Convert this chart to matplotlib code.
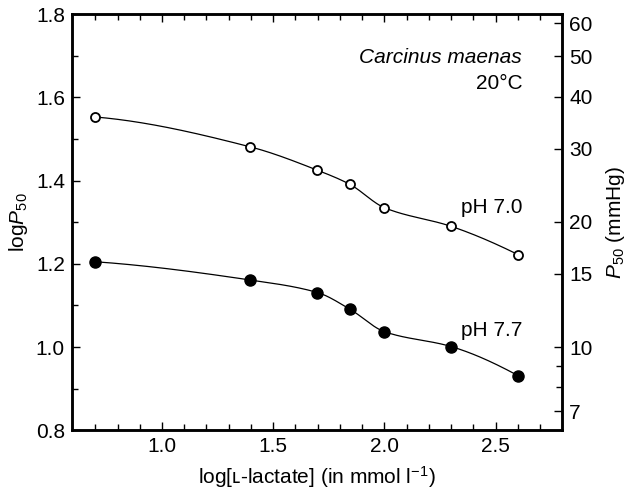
import numpy as np
import matplotlib
matplotlib.use('Agg')
import matplotlib.pyplot as plt

plt.rcParams['font.family'] = ['Liberation Sans', 'DejaVu Sans']
plt.rcParams['mathtext.fontset'] = 'custom'
plt.rcParams['mathtext.rm'] = 'Liberation Sans'
plt.rcParams['mathtext.it'] = 'Liberation Sans:italic'
plt.rcParams['font.size'] = 15

log_lactate = [0.699, 1.398, 1.699, 1.845, 2.0, 2.301, 2.602]
logp50_ph70 = [1.553, 1.481, 1.425, 1.391, 1.335, 1.290, 1.222]
logp50_ph77 = [1.205, 1.161, 1.131, 1.091, 1.037, 1.001, 0.931]
right_ticks = [7, 10, 15, 20, 30, 40, 50, 60]
right_minor = [8, 9]


def pchip(x, y, n=300):
    # monotone cubic through the points, for the smooth fitted line
    x = np.asarray(x, float)
    y = np.asarray(y, float)
    h = np.diff(x)
    delta = np.diff(y) / h
    k = len(x)
    d = np.zeros(k)
    for i in range(1, k - 1):
        if delta[i - 1] * delta[i] > 0:
            w1 = 2 * h[i] + h[i - 1]
            w2 = h[i] + 2 * h[i - 1]
            d[i] = (w1 + w2) / (w1 / delta[i - 1] + w2 / delta[i])
    d[0] = ((2 * h[0] + h[1]) * delta[0] - h[0] * delta[1]) / (h[0] + h[1])
    d[-1] = ((2 * h[-1] + h[-2]) * delta[-1] - h[-1] * delta[-2]) / (h[-1] + h[-2])
    xs = np.linspace(x[0], x[-1], n)
    idx = np.clip(np.searchsorted(x, xs) - 1, 0, k - 2)
    t = (xs - x[idx]) / h[idx]
    h00 = 2 * t ** 3 - 3 * t ** 2 + 1
    h10 = t ** 3 - 2 * t ** 2 + t
    h01 = -2 * t ** 3 + 3 * t ** 2
    h11 = t ** 3 - t ** 2
    ys = h00 * y[idx] + h10 * h[idx] * d[idx] + h01 * y[idx + 1] + h11 * h[idx] * d[idx + 1]
    return xs, ys


fig = plt.figure(figsize=(6.31, 4.90), dpi=100)
ax = fig.add_axes([0.114, 0.122, 0.777, 0.849])

for ys in (logp50_ph70, logp50_ph77):
    xs, ss = pchip(log_lactate, ys)
    ax.plot(xs, ss, color='black', lw=0.9, zorder=2)
ax.plot(log_lactate, logp50_ph70, 'o', mfc='white', mec='black', ms=6.5, mew=1.3, zorder=3)
ax.plot(log_lactate, logp50_ph77, 'o', mfc='black', mec='black', ms=8, zorder=3)

ax.set_xlim(0.595, 2.8)
ax.set_ylim(0.8, 1.8)
ax.set_xticks([1.0, 1.5, 2.0, 2.5])
ax.set_xticks(np.arange(0.7, 2.75, 0.1), minor=True)
ax.set_yticks([0.8, 1.0, 1.2, 1.4, 1.6, 1.8])
ax.set_yticks([0.9, 1.1, 1.3, 1.5, 1.7], minor=True)
ax.xaxis.set_major_formatter(matplotlib.ticker.FormatStrFormatter('%.1f'))
ax.yaxis.set_major_formatter(matplotlib.ticker.FormatStrFormatter('%.1f'))
ax.tick_params(which='both', direction='in', top=True, right=False, width=1.0)
ax.tick_params(which='major', length=6, pad=5)
ax.tick_params(which='minor', length=4)
for s in ax.spines.values():
    s.set_linewidth(1.8)

ax.set_xlabel('log[ʟ-lactate] (in mmol l$^{-1}$)', labelpad=6)
ax.set_ylabel('log$\\it{P}$$_{50}$', labelpad=4)

ax2 = ax.twinx()
ax2.set_yscale('log')
ax2.set_ylim(10 ** 0.8, 10 ** 1.8)
ax2.set_yticks(right_ticks)
ax2.set_yticks(right_minor, minor=True)
ax2.set_yticklabels([str(t) for t in right_ticks])
ax2.yaxis.set_minor_formatter(matplotlib.ticker.NullFormatter())
ax2.tick_params(which='both', direction='in', width=1.0)
ax2.tick_params(which='major', length=6, pad=5)
ax2.tick_params(which='minor', length=4)
ax2.set_ylabel('$\\it{P}$$_{50}$ (mmHg)', labelpad=8)
for s in ax2.spines.values():
    s.set_linewidth(1.8)

ax.text(2.62, 1.697, 'Carcinus maenas', style='italic', ha='right', va='center')
ax.text(2.62, 1.634, '20°C', ha='right', va='center')
ax.text(2.62, 1.336, 'pH 7.0', ha='right', va='center')
ax.text(2.62, 1.040, 'pH 7.7', ha='right', va='center')

fig.savefig('out.png', dpi=100)
